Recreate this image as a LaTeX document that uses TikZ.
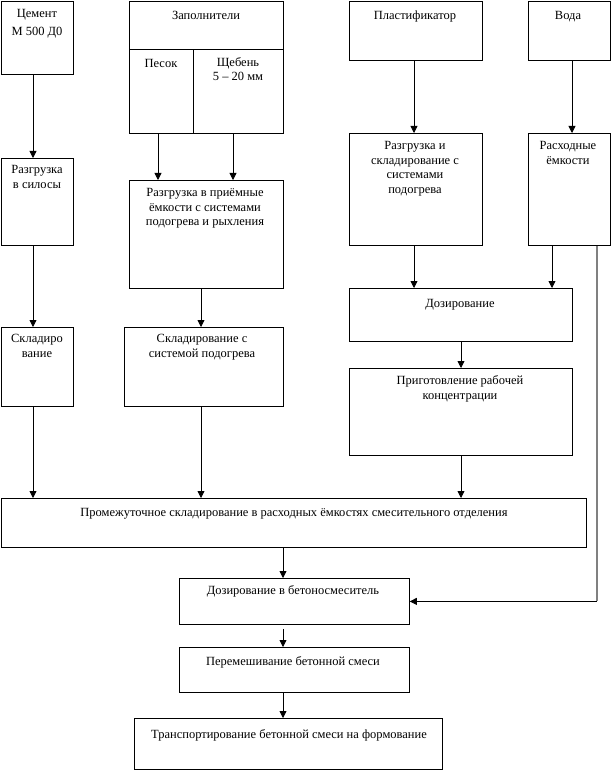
\documentclass[tikz,border=0pt]{standalone}
\usepackage{fontspec}
\setmainfont{Liberation Serif}
\usetikzlibrary{arrows.meta}
\begin{document}
\begin{tikzpicture}[x=1pt,y=-1pt,
  box/.style={draw,line width=0.8pt,inner sep=0pt,anchor=north west},
  txt/.style={anchor=north,yshift=8.65pt,align=center,inner sep=0pt,
    font=\fontsize{12.5}{14.5}\selectfont,execute at begin node=\strut},
  arr/.style={line width=0.8pt,-{Triangle[length=7pt,width=7pt]}},
  grayline/.style={line width=1.3pt,draw=gray}]
\useasboundingbox (0,0) rectangle (611,770);
% boxes
\node[box,minimum width=72pt,minimum height=73pt] (cem) at (1,1) {};
\node[box,minimum width=154pt,minimum height=48pt] (zap) at (129,1) {};
\node[box,minimum width=64pt,minimum height=84pt] (pesok) at (129,49) {};
\node[box,minimum width=90pt,minimum height=84pt] (scheb) at (193,49) {};
\node[box,minimum width=133pt,minimum height=59pt] (plast) at (349,1) {};
\node[box,minimum width=82pt,minimum height=59pt] (voda) at (528,1) {};
\node[box,minimum width=72pt,minimum height=87pt] (silo) at (1,158) {};
\node[box,minimum width=154pt,minimum height=108pt] (priem) at (129,180) {};
\node[box,minimum width=133pt,minimum height=112pt] (rplast) at (349,133) {};
\node[box,minimum width=82pt,minimum height=112pt] (rash) at (528,133) {};
\node[box,minimum width=72pt,minimum height=79pt] (sklad1) at (1,327) {};
\node[box,minimum width=159pt,minimum height=79pt] (sklad2) at (124,327) {};
\node[box,minimum width=223pt,minimum height=53pt] (doz) at (349,288) {};
\node[box,minimum width=223pt,minimum height=87pt] (prig) at (349,368) {};
\node[box,minimum width=585pt,minimum height=49pt] (prom) at (1,498) {};
\node[box,minimum width=230pt,minimum height=46pt] (dozb) at (179,578) {};
\node[box,minimum width=230pt,minimum height=45pt] (perem) at (179,647) {};
\node[box,minimum width=308pt,minimum height=51pt] (trans) at (134,718) {};
% texts (coordinates = baseline of first line)
\node[txt] (cemt) at (37,18) {Цемент\\[3.5pt]М 500 Д0};
\node[txt] (zapt) at (206,18) {Заполнители};
\node[txt] (pesokt) at (161,66) {Песок};
\node[txt] (schebt) at (238,66) {Щебень\\5 – 20 мм};
\node[txt] (plastt) at (415,18) {Пластификатор};
\node[txt] (vodat) at (568,18) {Вода};
\node[txt] (silot) at (37,174) {Разгрузка\\в силосы};
\node[txt] (priemt) at (205,197) {Разгрузка в приёмные\\ёмкости с системами\\подогрева и рыхления};
\node[txt] (rplastt) at (415,150) {Разгрузка и\\складирование с\\системами\\подогрева};
\node[txt] (rasht) at (568,150) {Расходные\\ёмкости};
\node[txt] (sklad1t) at (37,343) {Складиро\\вание};
\node[txt] (sklad2t) at (202,343) {Складирование с\\системой подогрева};
\node[txt] (dozt) at (460,306) {Дозирование};
\node[txt] (prigt) at (460,384) {Приготовление рабочей\\концентрации};
\node[txt] (promt) at (294,515) {Промежуточное складирование в расходных ёмкостях смесительного отделения};
\node[txt] (dozbt) at (293,593) {Дозирование в бетоносмеситель};
\node[txt] (peremt) at (293,664) {Перемешивание бетонной смеси};
\node[txt] (transt) at (289,737) {Транспортирование бетонной смеси на формование};
% x positions
\coordinate (c33) at (33,0);
\coordinate (c158) at (158,0);
\coordinate (c233) at (233,0);
\coordinate (c201) at (201,0);
\coordinate (c414) at (414,0);
\coordinate (c572) at (572,0);
\coordinate (c552) at (552,0);
\coordinate (c461) at (461,0);
\coordinate (c283) at (283,0);
\coordinate (c597) at (597,0);
% connectors
\draw[arr] (cem.south -| c33) -- (silo.north -| c33);
\draw[arr] (pesok.south -| c158) -- (priem.north -| c158);
\draw[arr] (scheb.south -| c233) -- (priem.north -| c233);
\draw[arr] (plast.south -| c414) -- (rplast.north -| c414);
\draw[arr] (voda.south -| c572) -- (rash.north -| c572);
\draw[arr] (silo.south -| c33) -- (sklad1.north -| c33);
\draw[arr] (priem.south -| c201) -- (sklad2.north -| c201);
\draw[arr] (rplast.south -| c414) -- (doz.north -| c414);
\draw[arr] (rash.south -| c552) -- (doz.north -| c552);
\draw[arr] (doz.south -| c461) -- (prig.north -| c461);
\draw[arr] (sklad1.south -| c33) -- (prom.north -| c33);
\draw[arr] (sklad2.south -| c201) -- (prom.north -| c201);
\draw[arr] (prig.south -| c461) -- (prom.north -| c461);
\draw[arr] (prom.south -| c283) -- (dozb.north -| c283);
\draw[arr] ([yshift=-4pt]dozb.south -| c283) -- (perem.north -| c283);
\draw[arr] (perem.south -| c283) -- (trans.north -| c283);
\coordinate (turn) at (c597 |- dozb.east);
\draw[grayline] (rash.south -| c597) -- (turn);
\draw[arr] (turn) -- (dozb.east);
\end{tikzpicture}
\end{document}
